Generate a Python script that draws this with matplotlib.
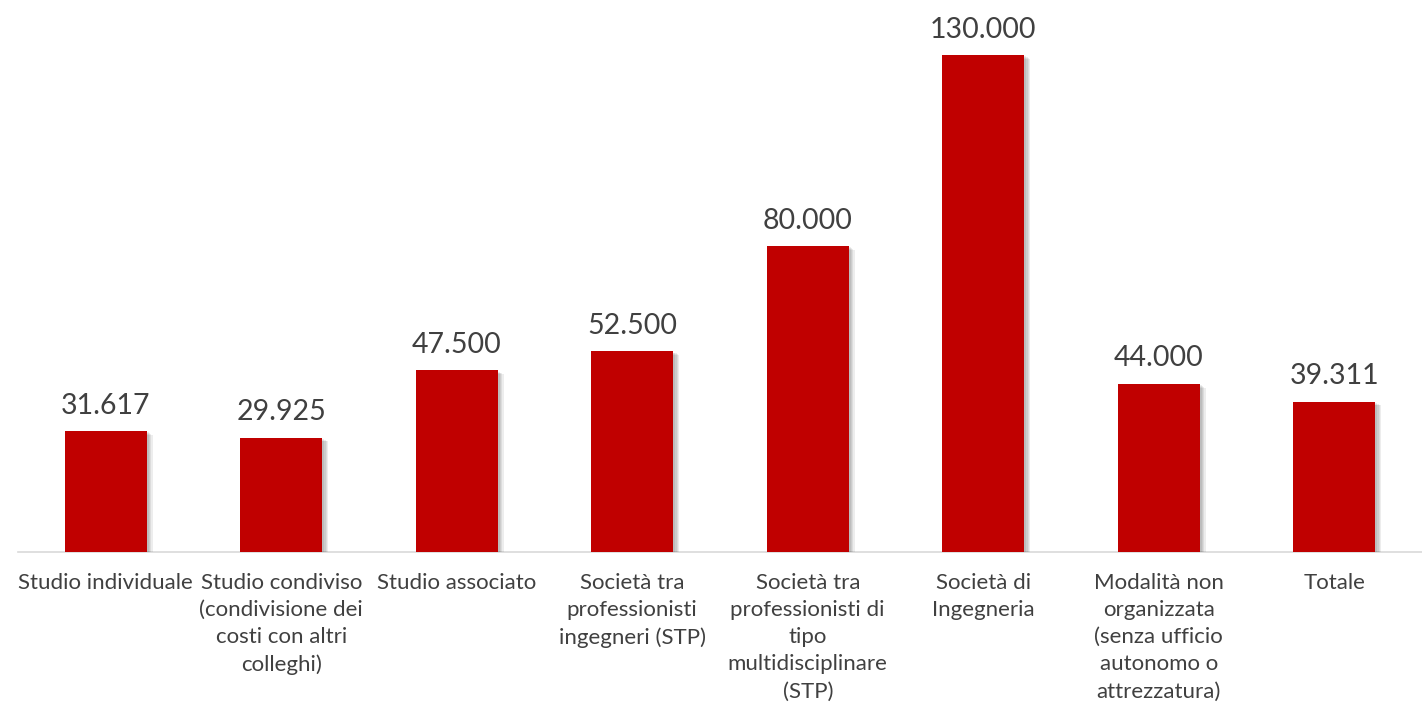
import matplotlib
matplotlib.use("Agg")
import matplotlib.pyplot as plt
import matplotlib.patheffects as pe

categories = [
    "Studio individuale",
    "Studio condiviso\n(condivisione dei\ncosti con altri\ncolleghi)",
    "Studio associato",
    "Società tra\nprofessionisti\ningegneri (STP)",
    "Società tra\nprofessionisti di\ntipo\nmultidisciplinare\n(STP)",
    "Società di\nIngegneria",
    "Modalità non\norganizzata\n(senza ufficio\nautonomo o\nattrezzatura)",
    "Totale",
]
values = [31617, 29925, 47500, 52500, 80000, 130000, 44000, 39311]

plt.rcParams['font.family'] = ['Lato', 'DejaVu Sans']

fig = plt.figure(figsize=(14.22, 7.12), dpi=100)
ax = fig.add_axes([18 / 1422, 160 / 712, 1404 / 1422, 552 / 712])

x = list(range(len(values)))
shadow = [pe.SimplePatchShadow(offset=(d, -d * 0.6), shadow_rgbFace='#000000', alpha=0.07)
          for d in (1.5, 2.5, 3.5, 4.5)] + [pe.Normal()]
bars = ax.bar(x, values, width=0.465, color='#C00000', zorder=3)
for b in bars:
    b.set_path_effects(shadow)

for xi, v in zip(x, values):
    ax.annotate(f"{v:,}".replace(",", "."), (xi, v), xytext=(0, 9), textcoords='offset points',
                ha='center', va='bottom', fontsize=20.5, color='#404040')

ax.set_xlim(-0.5, len(values) - 0.5)
ax.set_ylim(0, 144400)
ax.set_xticks(x)
ax.set_xticklabels(categories, fontsize=16, color='#404040', linespacing=1.45)
ax.tick_params(axis='x', length=0, pad=15)
ax.set_yticks([])
for s in ('top', 'right', 'left'):
    ax.spines[s].set_visible(False)
ax.spines['bottom'].set_color('#D9D9D9')
ax.spines['bottom'].set_linewidth(1.2)

fig.savefig("out.png", dpi=100)
